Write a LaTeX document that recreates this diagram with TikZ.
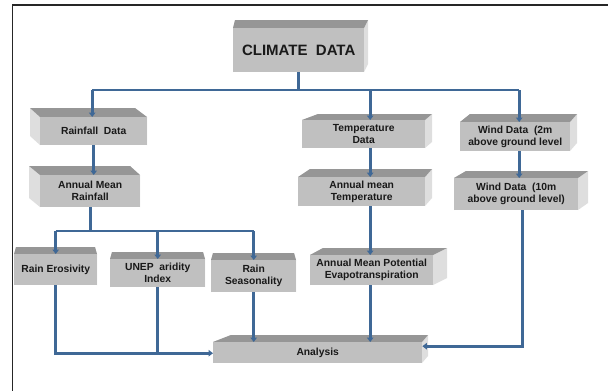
\documentclass[tikz,border=0pt]{standalone}
\usepackage{fontspec}
\setmainfont{Liberation Sans}
\usetikzlibrary{arrows.meta,calc}
\definecolor{frontc}{HTML}{C0C0C0}
\definecolor{topc}{HTML}{969696}
\definecolor{sidec}{HTML}{DEDEDE}
\definecolor{linec}{HTML}{3F6896}
\tikzset{
  frontbox/.style={fill=frontc, inner sep=0pt, align=center, text=black!90,
    font=\fontsize{10.3}{11.8}\selectfont\bfseries},
  conn/.style={draw=linec, line width=2.8pt},
  arr/.style={conn, -{Triangle[width=6.5pt,length=4.5pt]}},
  frame/.style={draw=black!85, line width=1.8pt}
}
% #1 name, #2 x1, #3 y1, #4 x2, #5 y2 (front face), #6 back-left dx, #7 back-right dx, #8 depth up, #9 text
\newcommand\cubebox[9]{%
  \fill[sidec] (#2,#3) -- ({#2+#6},{#3-#8}) -- ({#2+#6},{#5-#8}) -- (#2,#5) -- cycle;
  \fill[sidec] (#4,#3) -- ({#4+#7},{#3-#8}) -- ({#4+#7},{#5-#8}) -- (#4,#5) -- cycle;
  \fill[topc] (#2,#3) -- ({#2+#6},{#3-#8}) -- ({#4+#7},{#3-#8}) -- (#4,#3) -- cycle;
  \node[frontbox, minimum width={(#4-#2)*1pt}, minimum height={(#5-#3)*1pt}, anchor=north west] (#1) at (#2,#3) {#9};
}
\begin{document}
\begin{tikzpicture}[x=1pt,y=-1pt]
\useasboundingbox (0,0) rectangle (608,391);
\draw[frame] (12.5,392) -- (12.5,5) -- (610,5);

\cubebox{climate}{233}{28}{364}{72}{2}{4}{8}{\fontsize{15}{17}\selectfont CLIMATE\ \ DATA}
\cubebox{rain}{40}{117}{147}{145}{-10}{-12}{9}{Rainfall\ \ Data}
\cubebox{amr}{40}{175}{140}{207}{-11}{-10}{9}{Annual Mean\\Rainfall}
\cubebox{temp}{302}{120}{425}{148}{16}{7}{6}{Temperature\\Data}
\cubebox{amt}{298}{177}{425}{206}{12}{7}{8}{Annual mean\\Temperature}
\cubebox{wind2}{460}{122}{570}{151}{10}{7}{8}{Wind Data\ \ (2m\\above ground level}
\cubebox{wind10}{454}{178}{578}{210}{12}{10}{7}{Wind Data\ \ (10m\\above ground level)}
\cubebox{ero}{14}{254}{97}{285}{2}{-2}{7}{Rain Erosivity}
\cubebox{unep}{110}{259}{205}{287}{2}{-2}{7}{UNEP\ \ aridity\\Index}
\cubebox{seas}{211}{260}{296}{292}{2}{-2}{7}{Rain\\Seasonality}
\cubebox{evap}{310}{255}{433}{285}{13}{14}{7}{Annual Mean Potential\\Evapotranspiration}
\cubebox{ana}{213}{342}{422}{363}{18}{6}{7}{Analysis}

\coordinate (bus1) at (0,90);
\coordinate (bus2) at (0,231);
\coordinate (rx) at ([xshift=-1.5pt]rain.north);
\coordinate (tx) at ([xshift=6.5pt]temp.north);
\coordinate (wx) at ([xshift=4pt]wind2.north);
\coordinate (wx2) at ([xshift=6pt]wind10.south);
\coordinate (anaR) at ([yshift=6.5pt]ana.east);
\coordinate (anaL) at ([yshift=-0.5pt]ana.west);

% climate bus
\draw[conn] (climate.south) -- (climate.south |- bus1);
\draw[conn] (rx |- bus1) -- (wx |- bus1);
\draw[arr] (rx |- bus1) -- (rx);
\draw[arr] (tx |- bus1) -- (tx);
\draw[arr] (wx |- bus1) -- (wx);

% rainfall column
\draw[arr] (rain.south) -- (rain.south |- amr.north);
\draw[conn] (amr.south) -- (amr.south |- bus2);
\draw[conn] (ero.north |- bus2) -- (seas.north |- bus2);
\draw[arr] (ero.north |- bus2) -- (ero.north);
\draw[arr] (unep.north |- bus2) -- (unep.north);
\draw[arr] (seas.north |- bus2) -- (seas.north);

% temperature column
\draw[arr] (tx |- temp.south) -- (tx |- amt.north);
\draw[arr] (tx |- amt.south) -- (tx |- evap.north);
\draw[arr] (tx |- evap.south) -- (tx |- ana.north);

% wind column
\draw[arr] (wx |- wind2.south) -- (wx |- wind10.north);
\draw[arr] (wx2) |- (anaR);

% to analysis
\draw[arr] (ero.south) |- (anaL);
\draw[conn] (unep.south) -- (unep.south |- anaL);
\draw[arr] (seas.south) -- (seas.south |- ana.north);
\end{tikzpicture}
\end{document}
